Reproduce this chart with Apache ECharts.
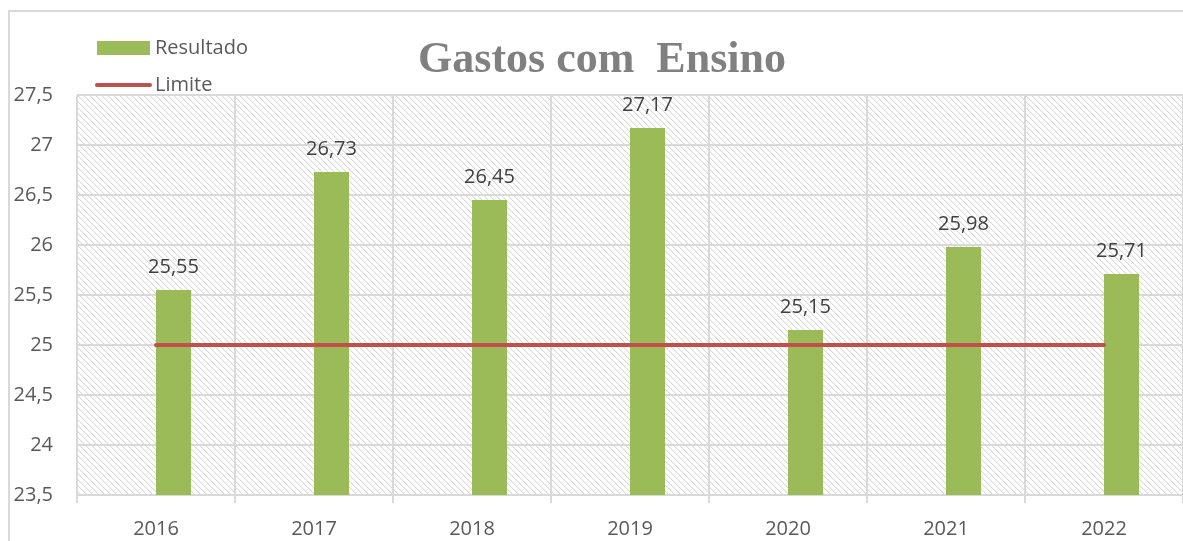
<!DOCTYPE html>
<html>
<head>
<meta charset="utf-8">
<script src="https://cdn.jsdelivr.net/npm/echarts@6/dist/echarts.min.js"></script>
<style>
html,body{margin:0;padding:0;background:#fff;overflow:hidden;}
#frame{position:absolute;left:8px;top:10px;width:1300px;height:700px;border:2px solid #D9D9D9;box-sizing:border-box;}
#chart{position:absolute;left:0;top:0;width:1183px;height:541px;}
</style>
</head>
<body>
<div id="frame"></div>
<div id="chart"></div>
<script>
const categories = ['2016','2017','2018','2019','2020','2021','2022'];
const resultado = [25.55, 26.73, 26.45, 27.17, 25.15, 25.98, 25.71];
const limite = [25, 25, 25, 25, 25, 25, 25];
const emptySlot = [null, null, null, null, null, null, null];
const yMin = 23.5, yMax = 27.5, yStep = 0.5;

function fmt(v){ return String(v).replace('.', ','); }

// hatch pattern
const P = 6;
const pc = document.createElement('canvas');
pc.width = P; pc.height = P;
const pctx = pc.getContext('2d');
pctx.fillStyle = '#ffffff';
pctx.fillRect(0,0,P,P);
for (let i = 0; i < P; i++) {
  pctx.fillStyle = '#DADADA';
  pctx.fillRect(i, i, 1, 1);
  pctx.fillStyle = '#F2F2F2';
  pctx.fillRect((i + 1) % P, i, 1, 1);
}

const chart = echarts.init(document.getElementById('chart'));
const font = "'Open Sans', sans-serif";
chart.setOption({
  animation: false,
  title: {
    text: 'Gastos com  Ensino',
    left: 597, top: 34, textAlign: 'center',
    textStyle: { fontFamily: "'Liberation Serif', serif", fontWeight: 'bold', fontSize: 44, color: '#808080' }
  },
  legend: {
    orient: 'vertical', left: 95, top: 38, padding: 0, itemGap: 17, itemWidth: 53, itemHeight: 14,
    textStyle: { fontFamily: font, fontSize: 20, color: '#595959' },
    data: [
      { name: 'Resultado', icon: 'rect' },
      { name: 'Limite', itemStyle: { opacity: 0 }, lineStyle: { width: 4, cap: 'round', color: '#C0504D' } }
    ]
  },
  grid: {
    left: 77, top: 95, width: 1108, bottom: 46,
    show: true, borderWidth: 0,
    backgroundColor: { image: pc, repeat: 'repeat' }
  },
  xAxis: {
    type: 'category', data: categories, boundaryGap: true,
    axisLine: { lineStyle: { color: '#D9D9D9', width: 2 } },
    axisTick: { show: true, length: 8, lineStyle: { color: '#D9D9D9', width: 2 } },
    splitLine: { show: true, lineStyle: { color: '#D9D9D9', width: 2 } },
    axisLabel: { fontFamily: font, fontSize: 20, color: '#595959', margin: 24 }
  },
  yAxis: {
    type: 'value', min: yMin, max: yMax, interval: yStep,
    axisLine: { show: false }, axisTick: { show: false },
    splitLine: { lineStyle: { color: '#D9D9D9', width: 2 } },
    axisLabel: { fontFamily: font, fontSize: 20, color: '#595959', margin: 24, formatter: fmt }
  },
  series: [
    {
      name: 'slot', type: 'bar', data: emptySlot, barWidth: 35, barGap: '0%'
    },
    {
      name: 'Resultado', type: 'bar', data: resultado, barWidth: 35, barGap: '0%',
      itemStyle: { color: '#9BBB59' },
      label: { show: true, position: 'top', distance: 13, fontFamily: font, fontSize: 20, color: '#404040', formatter: p => fmt(p.value) }
    },
    {
      name: 'Limite', type: 'line', data: limite, symbol: 'none',
      lineStyle: { color: '#C0504D', width: 4, cap: 'round' }, itemStyle: { color: '#C0504D' }
    }
  ]
});
</script>
</body>
</html>
